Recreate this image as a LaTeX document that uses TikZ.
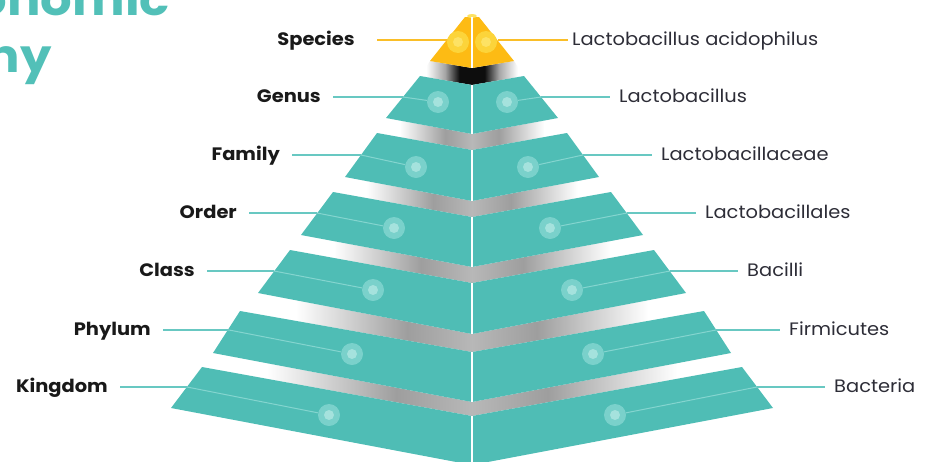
\documentclass[tikz,border=0pt]{standalone}
\usepackage{fontspec}
\setmainfont{Poppins}[FakeStretch=1.08]
\usepackage{xcolor}
\usetikzlibrary{positioning,calc}
\definecolor{slabteal}{RGB}{79,189,181}
\definecolor{lineteal}{RGB}{104,200,194}
\definecolor{innerteal}{RGB}{132,213,207}
\definecolor{dotouter}{RGB}{122,209,203}
\definecolor{dotinner}{RGB}{165,226,221}
\definecolor{pyrgold}{RGB}{253,187,20}
\definecolor{goldline}{RGB}{250,190,40}
\definecolor{golddot}{RGB}{252,212,58}
\definecolor{golddotin}{RGB}{253,226,100}
\definecolor{titleteal}{RGB}{82,192,184}
\definecolor{labelgray}{RGB}{45,45,55}
\pgfdeclarehorizontalshading{gapfade}{100bp}{color(0bp)=(white); color(31bp)=(white); color(43bp)=(black!38); color(50bp)=(black!28); color(57bp)=(black!38); color(69bp)=(white); color(100bp)=(white)}
\pgfdeclarehorizontalshading{topfade}{100bp}{color(0bp)=(white); color(28bp)=(white); color(37bp)=(black!35); color(44bp)=(black!95); color(56bp)=(black!95); color(63bp)=(black!35); color(72bp)=(white); color(100bp)=(white)}

\begin{document}
\begin{tikzpicture}[
    x=1pt, y=-1pt,
    rank/.style={font=\fontsize{18}{20}\selectfont\bfseries, text=black!90, anchor=east, inner xsep=12pt, inner ysep=0pt, text height=2ex, text depth=0ex},
    taxon/.style={font=\fontsize{18}{20}\selectfont, text=labelgray, anchor=west, inner xsep=9pt, inner ysep=0pt, text height=2ex, text depth=0ex},
    slab/.style={fill=slabteal},
    gapshade/.style={shading=gapfade},
    tdot/.style={circle, minimum size=22pt, inner sep=0pt, fill=dotouter, path picture={\fill[dotinner] (path picture bounding box.center) circle (5pt);}},
    ydot/.style={circle, minimum size=22pt, inner sep=0pt, fill=golddot, path picture={\fill[golddotin] (path picture bounding box.center) circle (5pt);}},
    tline/.style={lineteal, line width=1.3pt},
    inlink/.style={innerteal, line width=1pt},
    yline/.style={goldline, line width=1.5pt},
    midsplit/.style={white, line width=1.2pt},
    heading/.style={font=\fontsize{46}{50}\selectfont\bfseries, text=titleteal, anchor=base east, inner sep=0pt}
]
\useasboundingbox (0,0) rectangle (926,461);
\clip (0,0) rectangle (926,461);

% Title (cut by the frame)
\node[heading] (titleA) at (170,15) {Taxonomic};
\node[heading] (titleB) at (52,72) {Hierarchy};

% Shadows between the layers
\shade[shading=topfade] (430,61) -- (472,68) -- (514,61) -- (524,76) -- (472,85) -- (420,76) -- cycle;
\shade[gapshade] (386,118) -- (472,134) -- (558,118) -- (567,133) -- (472,150) -- (377,133) -- cycle;
\shade[gapshade] (345,177) -- (472,201) -- (599,177) -- (611,192) -- (472,217) -- (333,192) -- cycle;
\shade[gapshade] (301,235) -- (472,267) -- (643,235) -- (654,250) -- (472,283) -- (290,250) -- cycle;
\shade[gapshade] (258,293) -- (472,334) -- (686,293) -- (704,311) -- (472,352) -- (240,311) -- cycle;
\shade[gapshade] (213,353) -- (472,402) -- (731,353) -- (742,367) -- (472,416) -- (202,367) -- cycle;

% Pyramid layers
\fill[pyrgold] (465,17) -- (479,17) -- (514,61) -- (472,68) -- (430,61) -- cycle;
\fill[golddotin] (472,16) ellipse (5 and 2);
\fill[slab] (420,76) -- (472,85) -- (524,76) -- (558,118) -- (472,134) -- (386,118) -- cycle;
\fill[slab] (377,133) -- (472,150) -- (567,133) -- (599,177) -- (472,201) -- (345,177) -- cycle;
\fill[slab] (333,192) -- (472,217) -- (611,192) -- (643,235) -- (472,267) -- (301,235) -- cycle;
\fill[slab] (290,250) -- (472,283) -- (654,250) -- (686,293) -- (472,334) -- (258,293) -- cycle;
\fill[slab] (240,311) -- (472,352) -- (704,311) -- (731,353) -- (472,402) -- (213,353) -- cycle;
\fill[slab] (202,367) -- (472,416) -- (742,367) -- (773,408) -- (472,465) -- (171,408) -- cycle;

% Split line down the middle
\draw[midsplit] (472,17) -- (472,68);
\draw[midsplit] (472,85) -- (472,134);
\draw[midsplit] (472,150) -- (472,201);
\draw[midsplit] (472,217) -- (472,267);
\draw[midsplit] (472,283) -- (472,334);
\draw[midsplit] (472,352) -- (472,402);
\draw[midsplit] (472,416) -- (472,465);

% Species
\node[ydot] (speciesD) at (458,42) {};
\node[ydot] (speciesDR) at (486,42) {};
\node[rank, inner xsep=22pt] (speciesL) at (377,40) {Species};
\node[taxon, inner xsep=4pt] (speciesR) at (568,40) {Lactobacillus acidophilus};
\coordinate (speciesE) at (447,40);
\coordinate (speciesER) at (498,40);
\draw[yline] (speciesL) -- (speciesE);
\draw[yline] (speciesER) -- (speciesR);

% Genus
\node[tdot] (genusD) at (438,102) {};
\node[tdot] (genusDR) at (507,102) {};
\node[rank] (genusL) at (333,97) {Genus};
\node[taxon] (genusR) at (610,97) {Lactobacillus};
\coordinate (genusE) at (403,97);
\coordinate (genusER) at (541,97);
\draw[tline] (genusL) -- (genusE);
\draw[inlink] (genusE) -- (genusD);
\draw[inlink] (genusDR) -- (genusER);
\draw[tline] (genusER) -- (genusR);

% Family
\node[tdot] (familyD) at (416,167) {};
\node[tdot] (familyDR) at (528,167) {};
\node[rank] (familyL) at (292,155) {Family};
\node[taxon] (familyR) at (652,155) {Lactobacillaceae};
\coordinate (familyE) at (361,155);
\coordinate (familyER) at (583,155);
\draw[tline] (familyL) -- (familyE);
\draw[inlink] (familyE) -- (familyD);
\draw[inlink] (familyDR) -- (familyER);
\draw[tline] (familyER) -- (familyR);

% Order
\node[tdot] (orderD) at (394,228) {};
\node[tdot] (orderDR) at (550,228) {};
\node[rank] (orderL) at (249,213) {Order};
\node[taxon] (orderR) at (696,213) {Lactobacillales};
\coordinate (orderE) at (317,213);
\coordinate (orderER) at (627,213);
\draw[tline] (orderL) -- (orderE);
\draw[inlink] (orderE) -- (orderD);
\draw[inlink] (orderDR) -- (orderER);
\draw[tline] (orderER) -- (orderR);

% Class
\node[tdot] (classD) at (373,290) {};
\node[tdot] (classDR) at (572,290) {};
\node[rank] (classL) at (207,271) {Class};
\node[taxon] (classR) at (738,271) {Bacilli};
\coordinate (classE) at (274,271);
\coordinate (classER) at (670,271);
\draw[tline] (classL) -- (classE);
\draw[inlink] (classE) -- (classD);
\draw[inlink] (classDR) -- (classER);
\draw[tline] (classER) -- (classR);

% Phylum
\node[tdot] (phylumD) at (352,354) {};
\node[tdot] (phylumDR) at (593,354) {};
\node[rank] (phylumL) at (163,330) {Phylum};
\node[taxon] (phylumR) at (780,330) {Firmicutes};
\coordinate (phylumE) at (229,330);
\coordinate (phylumER) at (716,330);
\draw[tline] (phylumL) -- (phylumE);
\draw[inlink] (phylumE) -- (phylumD);
\draw[inlink] (phylumDR) -- (phylumER);
\draw[tline] (phylumER) -- (phylumR);

% Kingdom
\node[tdot] (kingdomD) at (329,415) {};
\node[tdot] (kingdomDR) at (615,415) {};
\node[rank] (kingdomL) at (120,387) {Kingdom};
\node[taxon] (kingdomR) at (825,387) {Bacteria};
\coordinate (kingdomE) at (187,387);
\coordinate (kingdomER) at (757,387);
\draw[tline] (kingdomL) -- (kingdomE);
\draw[inlink] (kingdomE) -- (kingdomD);
\draw[inlink] (kingdomDR) -- (kingdomER);
\draw[tline] (kingdomER) -- (kingdomR);

\end{tikzpicture}
\end{document}
